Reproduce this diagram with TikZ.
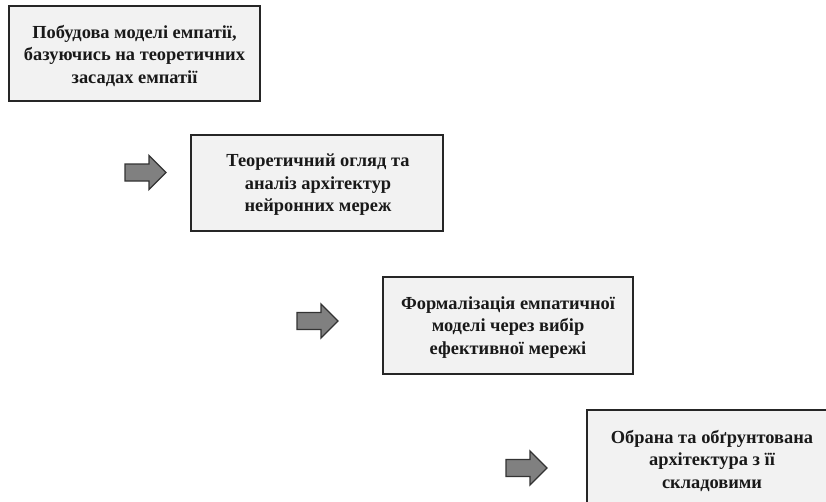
\documentclass[tikz,border=0pt]{standalone}
\usepackage{fontspec}
\setmainfont{Liberation Serif}
\begin{document}
\begin{tikzpicture}[x=1pt,y=-1pt,
  stagebox/.style={draw=black!85, line width=1.2pt, fill=black!5},
  stagetext/.style={font=\bfseries\fontsize{18.4}{22.5}\selectfont, align=center, text=black!90},
  nextarrow/.style={draw=black!80, line width=1.3pt, fill=black!50, line join=miter}]
\useasboundingbox (0,0) rectangle (826,501);
\clip (0,0) rectangle (826,501);
\fill[white] (0,0) rectangle (826,501);

% stage boxes
\draw[stagebox] (9,6) rectangle (260,101);
\node[stagetext] (s1) at (134.5,56) {Побудова моделі емпатії,\\базуючись на теоретичних\\засадах емпатії};

\draw[stagebox] (191,135) rectangle (443,231);
\node[stagetext] (s2) at (318,185) {Теоретичний огляд та\\аналіз архітектур\\нейронних мереж};

\draw[stagebox] (383,277) rectangle (633,374);
\node[stagetext] (s3) at (508,327.5) {Формалізація емпатичної\\моделі через вибір\\ефективної мережі};

\draw[stagebox] (587,410) rectangle (838,507);
\node[stagetext] (s4) at (712,461) {Обрана та обґрунтована\\архітектура з її\\складовими};

% block arrows between stages
\newcommand{\blockarrow}[3]{%
  \draw[nextarrow] (#1,#2-8.5) -- (#1+24,#2-8.5) -- (#1+24,#2-17) -- (#1+41,#2)
    -- (#1+24,#2+17) -- (#1+24,#2+8.5) -- (#1,#2+8.5) -- cycle;
  \coordinate (#3) at (#1+20,#2);}
\blockarrow{125}{172.5}{a1}
\blockarrow{297}{321}{a2}
\blockarrow{506}{468}{a3}
\end{tikzpicture}
\end{document}
